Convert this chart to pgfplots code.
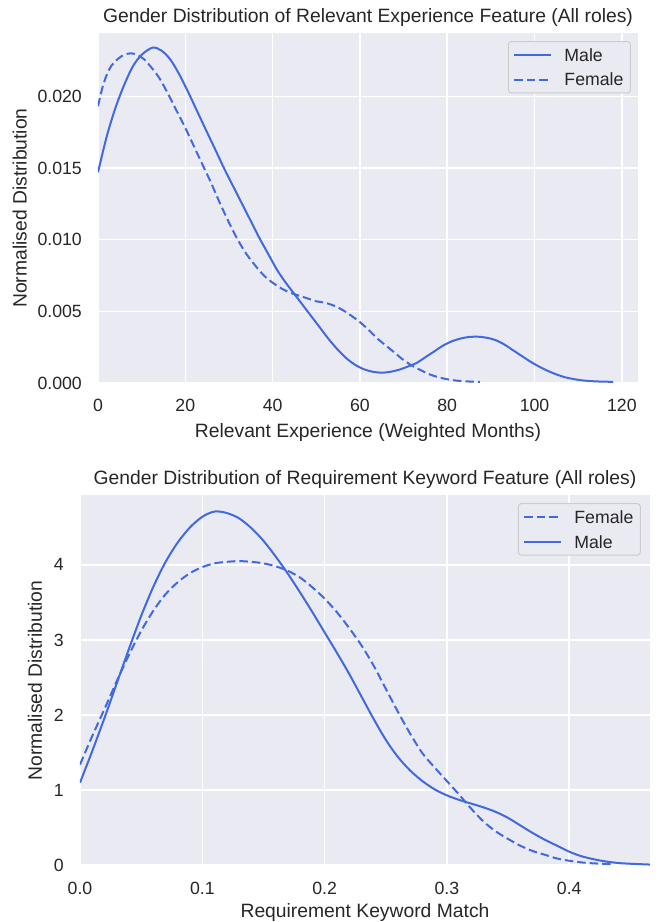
\documentclass[border=0pt]{standalone}
\usepackage{fontspec}
\setmainfont{Liberation Sans}
\usepackage{pgfplots}
\pgfplotsset{compat=1.18}
\definecolor{bg}{HTML}{EAEAF2}
\definecolor{ln}{HTML}{4169E1}
\definecolor{txt}{HTML}{262626}
\definecolor{lgedge}{HTML}{CCCCCC}
\pgfplotsset{sns/.style={
  scale only axis,
  axis background/.style={fill=bg},
  axis line style={draw=none},
  grid=major,
  major grid style={white, line width=1.6pt},
  major tick length=0pt,
  tick style={draw=none},
  tick label style={font=\fontsize{17.7}{21}\selectfont, text=txt, inner sep=1pt},
  xticklabel shift=15pt,
  yticklabel shift=15pt,
  /pgf/number format/assume math mode=true,
  label style={font=\fontsize{19.3}{23}\selectfont, text=txt},
  title style={font=\fontsize{19.3}{23}\selectfont, text=txt},
  legend style={font=\fontsize{17.7}{21}\selectfont, text=txt, draw=lgedge, fill=bg,
    rounded corners=3pt, line width=1pt, inner sep=5pt, row sep=8pt,
    nodes={inner sep=2pt, text height=12.7pt, text depth=0pt},
    /tikz/every odd column/.append style={column sep=10pt}},
  legend cell align=left,
  legend image code/.code={\draw[#1] (0pt,0pt) -- (37pt,0pt);},
  every axis plot/.append style={line width=2pt, color=ln, smooth, no markers},
  scaled ticks=false,
}}
\tikzset{fem/.style={ln, no markers, dash pattern=on 8.5pt off 4pt},
         mal/.style={ln, no markers, solid}}
\begin{document}
\begin{tikzpicture}
\useasboundingbox (0,0) rectangle (660pt,922pt);
\begin{axis}[sns,
  at={(98pt,539pt)}, anchor=south west,
  width=540pt, height=350pt,
  xmin=0, xmax=123.7, ymin=0, ymax=0.02442,
  xtick={0,20,40,60,80,100,120},
  ytick={0,0.005,0.010,0.015,0.020},
  yticklabels={0.000,0.005,0.010,0.015,0.020},
  title={Gender Distribution of Relevant Experience Feature (All roles)},
  title style={at={(axis description cs:0.5,1.014)}, anchor=base},
  xlabel={Relevant Experience (Weighted Months)},
  xlabel style={at={(axis description cs:0.5,-0.1543)}, anchor=base},
  ylabel={Normalised Distribution},
  ylabel style={at={(axis description cs:-0.1324,0.5)}, rotate=0, anchor=base},
  legend style={at={(axis description cs:0.987,0.977)}, anchor=north east},
]
\addplot[mal] coordinates {
(0,0.0147) (2,0.0172) (4,0.0192) (6,0.0208) (8,0.0221) (10,0.0229) (12.5,0.0234)
(14.5,0.0232) (16.5,0.0226) (18.5,0.0216) (20.5,0.0204) (22.5,0.0191) (24.5,0.0178)
(27,0.0162) (29,0.0149) (31,0.0137) (33,0.0125) (35,0.0113) (37,0.0101) (39,0.0090)
(41,0.0079) (43,0.0070) (45,0.0062) (47,0.0054) (49,0.0046) (51,0.0038) (53,0.0030)
(55,0.0023) (57,0.0017) (59,0.00125) (61,0.00095) (63,0.00078) (65,0.00072) (67,0.00078)
(69,0.00093) (71,0.00115) (73,0.0014) (75,0.0018) (77,0.0022) (79,0.0026) (81,0.0029)
(83,0.0031) (85,0.00321) (87,0.00323) (89,0.00316) (91,0.0030) (93,0.0027) (95,0.0023)
(97,0.0019) (99,0.0015) (101,0.00115) (103,0.00085) (105,0.0006) (107,0.0004) (109,0.00027)
(111,0.00018) (113,0.00013) (115,0.0001) (118,0.00008)
};
\addlegendentry{Male}
\addplot[fem] coordinates {
(0,0.0193) (1,0.0206) (2,0.0215) (3,0.0221) (4.5,0.0226) (6,0.0229) (7.5,0.0230)
(9,0.0229) (10.5,0.0226) (12,0.0221) (14,0.0213) (16,0.0202) (18,0.0190) (20,0.0178)
(22,0.0165) (24,0.0152) (26,0.0139) (28,0.0125) (30,0.0112) (32,0.0100) (34,0.0090)
(36,0.0082) (38,0.0075) (40,0.0070) (42,0.0066) (44,0.0063) (46,0.0061) (48,0.0059)
(50,0.0057) (52,0.0056) (54,0.0054) (56,0.0051) (58,0.0047) (60,0.00425) (62,0.0037)
(64,0.0031) (66,0.0026) (68,0.0021) (70,0.0016) (72,0.0012) (74,0.00088) (76,0.0006)
(78,0.0004) (80,0.00026) (82,0.00017) (84,0.00012) (86,0.00009) (87.5,0.00007)
};
\addlegendentry{Female}
\end{axis}
\begin{axis}[sns,
  at={(80pt,56pt)}, anchor=south west,
  width=570pt, height=371pt,
  xmin=0, xmax=0.466, ymin=-0.01, ymax=4.93,
  xtick={0,0.1,0.2,0.3,0.4},
  xticklabels={0.0,0.1,0.2,0.3,0.4},
  ytick={0,1,2,3,4},
  title={Gender Distribution of Requirement Keyword Feature (All roles)},
  title style={at={(axis description cs:0.5,1.012)}, anchor=base},
  xlabel={Requirement Keyword Match},
  xlabel style={at={(axis description cs:0.5,-0.1375)}, anchor=base},
  ylabel={Normalised Distribution},
  ylabel style={at={(axis description cs:-0.0667,0.5)}, rotate=0, anchor=base},
  legend style={at={(axis description cs:0.984,0.978)}, anchor=north east},
]
\addplot[fem] coordinates {
(0.000,1.34) (0.010,1.72) (0.020,2.08) (0.030,2.45) (0.040,2.80) (0.050,3.12) (0.060,3.39)
(0.070,3.61) (0.080,3.77) (0.090,3.89) (0.100,3.97) (0.110,4.02) (0.120,4.04) (0.130,4.05)
(0.140,4.04) (0.150,4.02) (0.160,3.98) (0.170,3.92) (0.180,3.83) (0.190,3.70) (0.200,3.55)
(0.210,3.37) (0.220,3.16) (0.230,2.93) (0.240,2.66) (0.250,2.35) (0.260,2.04) (0.270,1.75)
(0.280,1.49) (0.290,1.30) (0.300,1.12) (0.310,0.94) (0.320,0.75) (0.330,0.58) (0.340,0.45)
(0.350,0.35) (0.360,0.26) (0.370,0.19) (0.380,0.14) (0.390,0.09) (0.400,0.06) (0.410,0.038)
(0.420,0.025) (0.437,0.014)
};
\addlegendentry{Female}
\addplot[mal] coordinates {
(0.000,1.10) (0.010,1.52) (0.020,1.96) (0.030,2.42) (0.040,2.88) (0.050,3.32) (0.060,3.71)
(0.070,4.04) (0.080,4.30) (0.090,4.50) (0.100,4.64) (0.110,4.71) (0.120,4.69) (0.130,4.62)
(0.140,4.49) (0.150,4.32) (0.160,4.11) (0.170,3.88) (0.180,3.63) (0.190,3.37) (0.200,3.10)
(0.210,2.83) (0.220,2.55) (0.230,2.25) (0.240,1.95) (0.250,1.67) (0.260,1.44) (0.270,1.26)
(0.280,1.12) (0.290,1.01) (0.300,0.93) (0.310,0.87) (0.320,0.82) (0.330,0.77) (0.340,0.71)
(0.350,0.63) (0.360,0.53) (0.370,0.43) (0.380,0.34) (0.390,0.26) (0.400,0.18) (0.410,0.12)
(0.420,0.08) (0.430,0.05) (0.440,0.03) (0.450,0.02) (0.466,0.009)
};
\addlegendentry{Male}
\end{axis}
\end{tikzpicture}
\end{document}
